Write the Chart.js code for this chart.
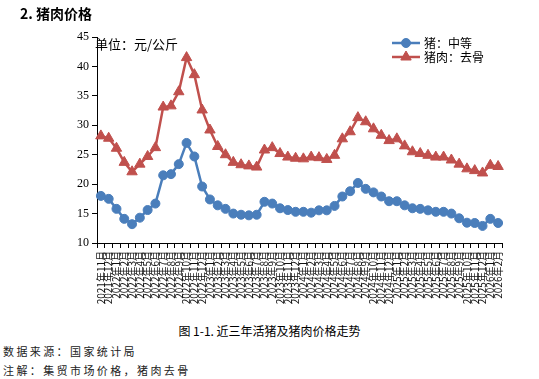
<!DOCTYPE html>
<html>
<head>
<meta charset="utf-8">
<script src="https://cdn.jsdelivr.net/npm/chart.js@4.4.1/dist/chart.umd.min.js"></script>
<style>
  html, body { margin: 0; padding: 0; background: #fff; }
  body { width: 539px; height: 379px; position: relative; overflow: hidden; font-family: "Noto Sans CJK SC", sans-serif; }
  #wrap { position: absolute; left: 0; top: 0; width: 539px; height: 320px; }
  .t { position: absolute; white-space: nowrap; color: #000; }
  #title { left: 20px; top: 3px; font-size: 14px; font-weight: bold; }
  #unit { left: 95px; top: 34px; font-size: 13px; }
  #caption { left: 0; width: 539px; text-align: center; top: 322px; font-size: 12px; }
  #src { left: 3px; top: 343px; font-size: 11px; letter-spacing: 2.4px; color: #222; }
  #note { left: 3px; top: 362px; font-size: 11px; letter-spacing: 2.4px; color: #222; }
</style>
</head>
<body>
<div id="wrap"><canvas id="c"></canvas></div>
<div class="t" id="title">2. 猪肉价格</div>
<div class="t" id="unit">单位：元/公斤</div>
<div class="t" id="caption">图 1-1. 近三年活猪及猪肉价格走势</div>
<div class="t" id="src">数据来源：国家统计局</div>
<div class="t" id="note">注解：集贸市场价格，猪肉去骨</div>
<script>
const categories = [
  "2021年11月","2021年12月",
  "2022年1月","2022年2月","2022年3月","2022年4月","2022年5月","2022年6月","2022年7月","2022年8月","2022年9月","2022年10月","2022年11月","2022年12月",
  "2023年1月","2023年2月","2023年3月","2023年4月","2023年5月","2023年6月","2023年7月","2023年8月","2023年9月","2023年10月","2023年11月","2023年12月",
  "2024年1月","2024年2月","2024年3月","2024年4月","2024年5月","2024年6月","2024年7月","2024年8月","2024年9月","2024年10月","2024年11月","2024年12月",
  "2025年1月","2025年2月","2025年3月","2025年4月","2025年5月","2025年6月","2025年7月","2025年8月","2025年9月","2025年10月","2025年11月","2025年12月",
  "2026年1月","2026年2月"
];
const seriesNames = ["猪：中等", "猪肉：去骨"];
const livePig = [
  18.0,17.5,15.8,14.1,13.2,14.3,15.6,16.7,21.5,21.7,23.4,27.0,24.7,19.6,17.4,16.4,15.8,15.0,14.8,14.7,
  14.8,17.0,16.7,15.9,15.6,15.3,15.3,15.15,15.55,15.55,16.3,17.9,18.8,20.2,19.2,18.6,17.9,17.1,17.1,16.4,
  15.9,15.8,15.55,15.3,15.3,15.0,14.2,13.45,13.4,12.9,14.1,13.4
];
const boneless = [
  28.2,27.8,26.1,23.7,22.1,23.4,24.7,26.2,33.1,33.3,35.7,41.5,38.6,32.6,29.2,26.4,25.0,23.7,23.3,23.1,
  22.9,25.8,26.2,25.2,24.6,24.4,24.3,24.6,24.5,24.2,24.9,27.7,28.9,31.3,30.6,29.4,28.3,27.4,27.7,26.5,
  25.5,25.2,24.9,24.6,24.6,24.1,23.4,22.6,22.3,21.9,23.2,23.0
];
const yTicks = [10, 15, 20, 25, 30, 35, 40, 45];

const BLUE = "#4A7EBB";
const RED = "#C0504D";

const legendPlugin = {
  id: "lineLegend",
  afterDraw(chart) {
    const ctx = chart.ctx;
    const items = chart.data.datasets;
    const x0 = 392, x1 = 420, tx = 424;
    const ys = [43, 57];
    ctx.save();
    items.forEach((ds, i) => {
      const y = ys[i];
      ctx.strokeStyle = ds.borderColor;
      ctx.lineWidth = 2.5;
      ctx.beginPath(); ctx.moveTo(x0, y); ctx.lineTo(x1, y); ctx.stroke();
      ctx.fillStyle = ds.pointBackgroundColor;
      ctx.strokeStyle = ds.pointBorderColor;
      ctx.lineWidth = 1;
      Chart.helpers.drawPoint(ctx, { pointStyle: ds.pointStyle, radius: ds.pointRadius, borderWidth: 1, rotation: 0 }, (x0 + x1) / 2, y);
      ctx.fillStyle = "#000";
      ctx.font = "12px 'Noto Sans CJK SC'";
      ctx.textBaseline = "middle";
      ctx.textAlign = "left";
      ctx.fillText(ds.label, tx, y);
    });
    ctx.restore();
  }
};

new Chart(document.getElementById("c"), {
  type: "line",
  data: {
    labels: categories,
    datasets: [
      {
        label: seriesNames[0], data: livePig,
        borderColor: BLUE, backgroundColor: BLUE,
        pointBackgroundColor: BLUE, pointBorderColor: BLUE,
        pointStyle: "circle", pointRadius: 4.5, pointBorderWidth: 1,
        borderWidth: 2.5, tension: 0
      },
      {
        label: seriesNames[1], data: boneless,
        borderColor: RED, backgroundColor: RED,
        pointBackgroundColor: RED, pointBorderColor: RED,
        pointStyle: "triangle", pointRadius: 6, pointBorderWidth: 1,
        borderWidth: 2.5, tension: 0
      }
    ]
  },
  options: {
    responsive: true,
    maintainAspectRatio: false,
    animation: false,
    devicePixelRatio: 1,
    layout: { padding: { left: 57, top: 37, right: 37, bottom: 7 } },
    plugins: { legend: { display: false }, tooltip: { enabled: false }, title: { display: false } },
    scales: {
      x: {
        type: "category",
        offset: true,
        afterFit(s) { s.height = 70; },
        grid: { display: true, drawOnChartArea: false, offset: true, tickLength: 5, color: "#000", lineWidth: 1 },
        border: { display: true, color: "#000", width: 1 },
        ticks: {
          autoSkip: false, maxRotation: 90, minRotation: 90, padding: 3,
          color: "#111", font: { family: "'Noto Sans CJK SC', 'Liberation Sans'", size: 10 }
        }
      },
      y: {
        min: yTicks[0], max: yTicks[yTicks.length - 1],
        afterFit(s) { s.width = 40; },
        afterBuildTicks(s) { s.ticks = yTicks.map(v => ({ value: v })); },
        grid: { display: true, drawOnChartArea: false, tickLength: 5, color: "#000", lineWidth: 1 },
        border: { display: true, color: "#000", width: 1 },
        ticks: {
          padding: 3, color: "#000",
          font: { family: "'Liberation Serif', 'DejaVu Serif'", size: 12 }
        }
      }
    }
  },
  plugins: [legendPlugin]
});
</script>
</body>
</html>
